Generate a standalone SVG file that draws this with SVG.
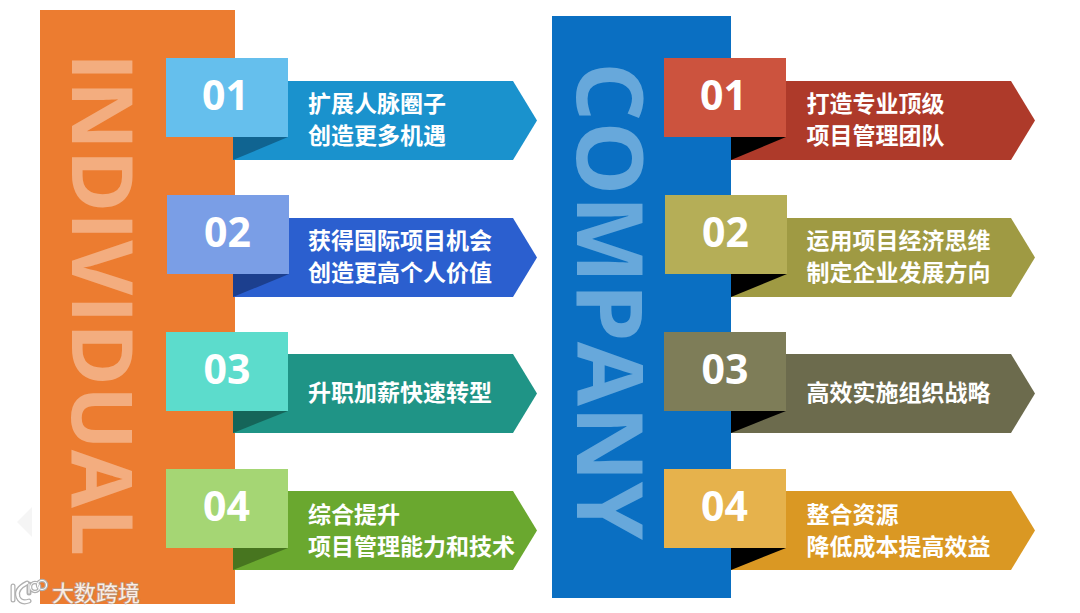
<svg xmlns="http://www.w3.org/2000/svg" width="1080" height="613" viewBox="0 0 1080 613">
<style>
.big{font-family:"Open Sans","Noto Sans",sans-serif;font-weight:700}
.num{font-family:"Open Sans","Noto Sans",sans-serif;font-weight:700;font-size:41px;fill:#fff;text-anchor:middle}
.lab{font-family:"Noto Sans CJK SC",sans-serif;font-weight:700;font-size:23px;fill:#fff}
.logo{fill:none;stroke-linecap:round}
</style>
<rect width="1080" height="613" fill="#fff"/>
<path d="M32 507L17 522L32 537Z" fill="#f5f5f5"/>
<g id="individual">
<rect x="40" y="10" width="195" height="594" fill="#ec7c30"/>
<text class="big" transform="translate(72 53) rotate(90)" font-size="85" fill="#f3ad7f" textLength="503" lengthAdjust="spacingAndGlyphs">INDIVIDUAL</text>
</g>
<g id="company">
<rect x="552" y="16" width="179" height="582" fill="#0a6fc2"/>
<text class="big" transform="translate(577 62) rotate(90)" font-size="92" fill="#67a8db" textLength="478" lengthAdjust="spacingAndGlyphs">COMPANY</text>
</g>
<g id="i1">
<path d="M233 81H513L537 120.500L513 160H233Z" fill="#1a92cd"/><path d="M233 160V137H288Z" fill="#106491"/>
<rect x="166" y="58" width="122" height="79" fill="#65bfed"/><text class="num" x="225.500" y="110">01</text>
<text class="lab" x="308" y="112">扩展人脉圈子</text><text class="lab" x="308" y="144">创造更多机遇</text>
</g>
<g id="i2">
<path d="M233 218H513L537 257.500L513 297H233Z" fill="#2b5fcf"/><path d="M233 297V274H289Z" fill="#1c3f8e"/>
<rect x="167" y="195" width="122" height="79" fill="#7a9ee6"/><text class="num" x="227.500" y="247">02</text>
<text class="lab" x="308" y="249">获得国际项目机会</text><text class="lab" x="308" y="281">创造更高个人价值</text>
</g>
<g id="i3">
<path d="M233 354H513L537 393.500L513 433H233Z" fill="#1f9486"/><path d="M233 433V411H288Z" fill="#156559"/>
<rect x="166" y="332" width="122" height="79" fill="#5cdccc"/><text class="num" x="227" y="384">03</text>
<text class="lab" x="308" y="401">升职加薪快速转型</text>
</g>
<g id="i4">
<path d="M233 491H513L537 530.500L513 570H233Z" fill="#6aa82f"/><path d="M233 570V548H288Z" fill="#47751f"/>
<rect x="166" y="469" width="122" height="79" fill="#a5d674"/><text class="num" x="226.500" y="521">04</text>
<text class="lab" x="308" y="523">综合提升</text><text class="lab" x="308" y="555">项目管理能力和技术</text>
</g>
<g id="c1">
<path d="M731 81H1011L1035 120.500L1011 160H731Z" fill="#ae3a2a"/><path d="M731 160V137H786Z" fill="#000"/>
<rect x="664" y="58" width="122" height="79" fill="#cc533e"/><text class="num" x="723.500" y="110">01</text>
<text class="lab" x="806.500" y="112">打造专业顶级</text><text class="lab" x="806.500" y="144">项目管理团队</text>
</g>
<g id="c2">
<path d="M731 218H1011L1035 257.500L1011 297H731Z" fill="#9f9a43"/><path d="M731 297V274H787Z" fill="#000"/>
<rect x="665" y="195" width="122" height="79" fill="#b5ae57"/><text class="num" x="725.500" y="247">02</text>
<text class="lab" x="806.500" y="249">运用项目经济思维</text><text class="lab" x="806.500" y="281">制定企业发展方向</text>
</g>
<g id="c3">
<path d="M731 354H1011L1035 393.500L1011 433H731Z" fill="#6c6b4d"/><path d="M731 433V411H786Z" fill="#000"/>
<rect x="664" y="332" width="122" height="79" fill="#7e7d58"/><text class="num" x="725" y="384">03</text>
<text class="lab" x="806.500" y="401">高效实施组织战略</text>
</g>
<g id="c4">
<path d="M731 491H1011L1035 530.500L1011 570H731Z" fill="#da9823"/><path d="M731 570V548H786Z" fill="#000"/>
<rect x="664" y="469" width="122" height="79" fill="#e6b24c"/><text class="num" x="724.500" y="521">04</text>
<text class="lab" x="806.500" y="523">整合资源</text><text class="lab" x="806.500" y="555">降低成本提高效益</text>
</g>
<g id="watermark">
<g class="logo" stroke="#b0b0b0" stroke-width="5">
<path d="M13 586V600"/><path d="M27 583Q15 589 18 597Q21 604 29 601"/><path d="M29 584V593"/>
</g>
<g class="logo" stroke="#b0b0b0" stroke-width="3.500">
<circle cx="35" cy="587" r="4.500"/><circle cx="42" cy="585" r="4.500"/>
</g>
<g class="logo" stroke="#fff" stroke-width="2.500">
<path d="M13 586V600"/><path d="M27 583Q15 589 18 597Q21 604 29 601"/>
</g>
<g class="logo" stroke="#fff" stroke-width="1.200">
<path d="M29 584V593"/><circle cx="35" cy="587" r="4.500"/><circle cx="42" cy="585" r="4.500"/>
</g>
<text x="52" y="601" font-family="'Noto Sans CJK SC',sans-serif" font-size="22" fill="#fbeee5" stroke="#a8a8a8" stroke-width="1.500" paint-order="stroke" stroke-opacity="0.7">大数跨境</text>
</g>
</svg>
